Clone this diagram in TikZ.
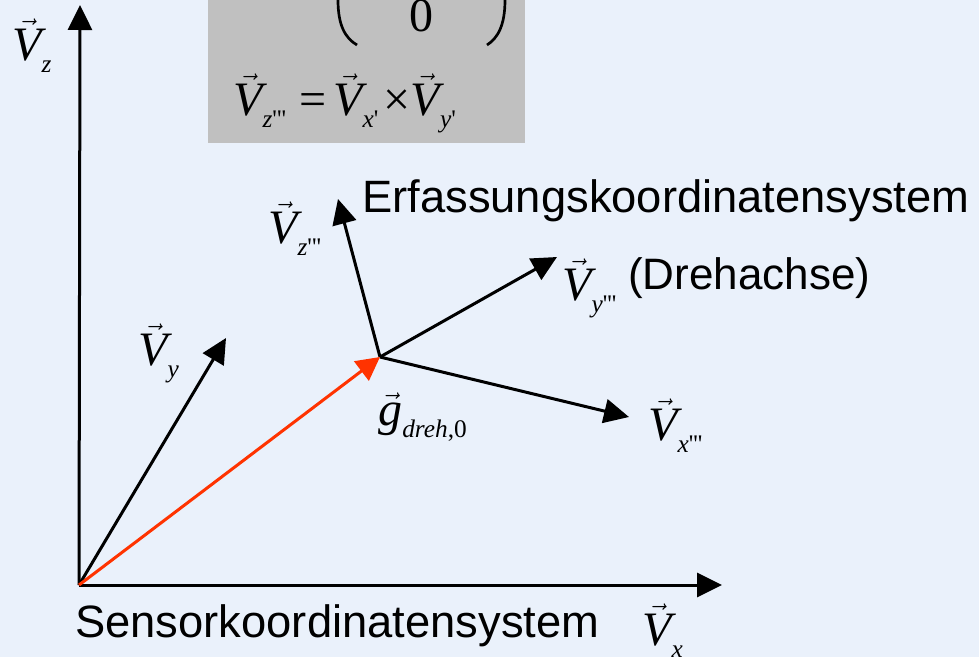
\documentclass[tikz,border=0pt]{standalone}
\usepackage{fontspec}
\setmainfont{Liberation Sans}
\newfontfamily\tms{Liberation Serif}
\usetikzlibrary{arrows.meta}
\definecolor{bgblue}{RGB}{234,241,251}
\definecolor{boxgray}{RGB}{192,192,192}
\definecolor{vecred}{RGB}{255,51,0}
\newcommand\pr{{\upshape\textquotesingle}}
\newcommand\vlab[2]{{\tms\itshape\fontsize{36}{36}\selectfont$\vec{\hbox{#1}}$\raisebox{-9pt}{\fontsize{19}{19}\selectfont #2}}}
\tikzset{
  ax/.style={line width=2.25pt,-{Triangle[length=18.75pt,width=18pt]}},
  redax/.style={ax,draw=vecred,-{Triangle[length=17.5pt,width=18pt,fill=vecred]}},
  lab/.style={inner sep=0pt,anchor=base west},
  bigtext/.style={inner sep=0pt,anchor=base west,font=\fontsize{34}{34}\selectfont},
  paren/.style={line width=2pt}
}
\begin{document}
\begin{tikzpicture}[x=0.75pt,y=-0.75pt]
\useasboundingbox (0,0) rectangle (979,657);
\fill[bgblue] (0,0) rectangle (979,657);
% gray formula box
\fill[boxgray] (208,0) rectangle (525,143);
\draw[paren] (338,0) .. controls (338,25) and (345,38) .. (357,45);
\draw[paren] (505,0) .. controls (505,25) and (498,38) .. (487,45);
\node[inner sep=0pt,anchor=base,font=\tms\fontsize{36}{36}\selectfont] (zero) at (421.5,31) {0};
\node[lab,font=\tms\fontsize{36}{36}\selectfont] (eq) at (233,115)
  {\vlab{V}{z\pr\pr\pr}\hspace{10pt}=\hspace{5pt}\vlab{V}{x\pr}\hspace{4pt}\texttimes\vlab{V}{y\pr}};
% coordinates
\coordinate (O) at (79,585);
\coordinate (P) at (380,357);
\coordinate (zt) at (80,5);
\coordinate (xt) at (722,585);
\coordinate (yt) at (226,338);
\coordinate (z3) at (338,199);
\coordinate (y3) at (557,257);
\coordinate (x3) at (629,417);
% arrows
\draw[ax] (O) -- (zt);
\draw[ax] (O) -- (xt);
\draw[ax] (O) -- (yt);
\draw[ax] (P) -- (z3);
\draw[ax] (P) -- (y3);
\draw[ax] (P) -- (x3);
\draw[redax] (O) -- (P);
% labels
\node[lab] (lz) at (12,60) {\vlab{V}{z}};
\node[lab] (lx) at (642,645) {\vlab{V}{x}};
\node[lab] (ly) at (138,365) {\vlab{V}{y}};
\node[lab] (lz3) at (268,243) {\vlab{V}{z\pr\pr\pr}};
\node[lab] (ly3) at (562,300) {\vlab{V}{y\pr\pr\pr}};
\node[lab] (lx3) at (648,440) {\vlab{V}{x\pr\pr\pr}};
\node[lab] (lg) at (378,425) {\vlab{g}{dreh{\upshape,0}}};
\node[bigtext] (erf) at (362,212) {Erfassungskoordinatensystem};
\node[bigtext,font=\fontsize{33}{33}\selectfont] (dreh) at (628,289) {(Drehachse)};
\node[bigtext] (sens) at (75,637) {Sensorkoordinatensystem};
\end{tikzpicture}
\end{document}
